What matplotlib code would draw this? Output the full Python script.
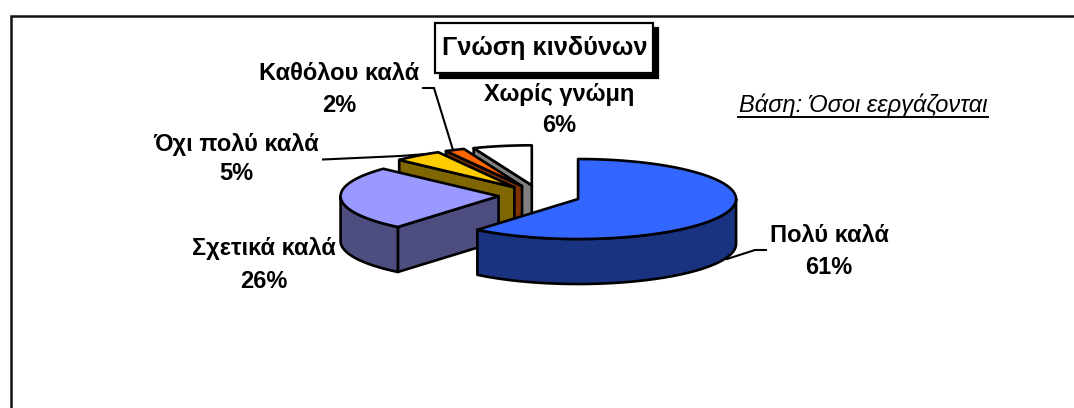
import numpy as np
import matplotlib
matplotlib.use('Agg')
import matplotlib.pyplot as plt
from matplotlib.patches import Polygon, Rectangle

# data
categorias = ['Πολύ καλά', 'Σχετικά καλά', 'Όχι πολύ καλά', 'Καθόλου καλά', 'Χωρίς γνώμη']
valores = [61, 26, 5, 2, 6]
titulo = 'Γνώση κινδύνων'
base = 'Βάση: Όσοι εεργάζονται'

# colores
col_top = ['#3366ff', '#9999ff', '#ffcc00', '#ff6600', '#ffffff']
col_side = ['#1a3380', '#4d4d80', '#806600', '#803300', '#808080']

# geometria en pixeles
cx, cy = 539.5, 195.5
rx, ry = 158, 40
prof = 45
expl = 41
lw = 1.9

# posicion de etiquetas (centro x, y nombre, y valor)
pos_labels = [(829, 235, 267), (264, 249, 281), (236, 144, 174), (339, 73, 105), (559, 94, 125)]

plt.rcParams['font.family'] = ['Liberation Sans', 'DejaVu Sans']

fig = plt.figure(figsize=(10.74, 4.08), dpi=100)
ax = fig.add_axes([0, 0, 1, 1])
ax.set_xlim(0, 1074)
ax.set_ylim(408, 0)
ax.axis('off')

# marco
ax.plot([11, 11, 1074], [408, 15.5, 15.5], color='#111111', lw=1.8, solid_joinstyle='miter')


def punto(ox, oy, ang):
    return ox + rx * np.sin(ang), oy - ry * np.cos(ang)


def poly(pts, color, z):
    ax.add_patch(Polygon(pts, closed=True, facecolor=color, edgecolor='black',
                         lw=lw, joinstyle='round', zorder=z))


bordes = np.deg2rad(np.cumsum([0] + valores) * 3.6)

# de atras para adelante
for z, i in enumerate([4, 3, 2, 1, 0]):
    a0, a1 = bordes[i], bordes[i + 1]
    mid = (a0 + a1) / 2
    ox = cx + expl * np.sin(mid)
    oy = cy - expl * (ry / rx) * np.cos(mid)
    zz = 2 + z

    # cara radial, solo si mira al frente
    if np.sin(a0) < -1e-6:
        px, py = punto(ox, oy, a0)
        poly([(ox, oy), (px, py), (px, py + prof), (ox, oy + prof)], col_side[i], zz)
    if np.sin(a1) > 1e-6:
        px, py = punto(ox, oy, a1)
        poly([(ox, oy), (px, py), (px, py + prof), (ox, oy + prof)], col_side[i], zz)

    # borde exterior
    r0, r1 = max(a0, np.pi / 2), min(a1, 3 * np.pi / 2)
    if r1 > r0:
        t = np.linspace(r0, r1, 80)
        xs, ys = punto(ox, oy, t)
        pts = list(zip(xs, ys)) + list(zip(xs[::-1], ys[::-1] + prof))
        poly(pts, col_side[i], zz)

    # tapa
    t = np.linspace(a0, a1, 120)
    xs, ys = punto(ox, oy, t)
    poly([(ox, oy)] + list(zip(xs, ys)), col_top[i], zz)

# lineas guia
guia = dict(color='black', lw=1.5, zorder=1, solid_joinstyle='miter')
ax.plot([423, 434, 453], [88, 88, 150], **guia)
ax.plot([323, 400, 440], [159.5, 156, 153], **guia)
ax.plot([727, 755, 766], [259, 250, 250], **guia)

# etiquetas
for nombre, v, (lx, y1, y2) in zip(categorias, valores, pos_labels):
    ax.text(lx, y1, nombre, ha='center', va='center', fontsize=17, fontweight='bold', zorder=20)
    ax.text(lx, y2, f'{v}%', ha='center', va='center', fontsize=17, fontweight='bold', zorder=20)

# titulo con sombra
ax.add_patch(Rectangle((440, 28), 218, 50, facecolor='black', edgecolor='black', lw=1.6, zorder=21))
ax.add_patch(Rectangle((435, 23), 218, 50, facecolor='white', edgecolor='black', lw=1.6, zorder=22))
ax.text(545, 48, titulo, ha='center', va='center', fontsize=18.2, fontweight='bold', zorder=23)

# base subrayada
ax.text(863, 105, base, ha='center', va='center', fontsize=17, style='italic', zorder=20)
ax.plot([738, 988], [116.5, 116.5], color='black', lw=1.4, zorder=20)

fig.savefig('out.png', dpi=100)
